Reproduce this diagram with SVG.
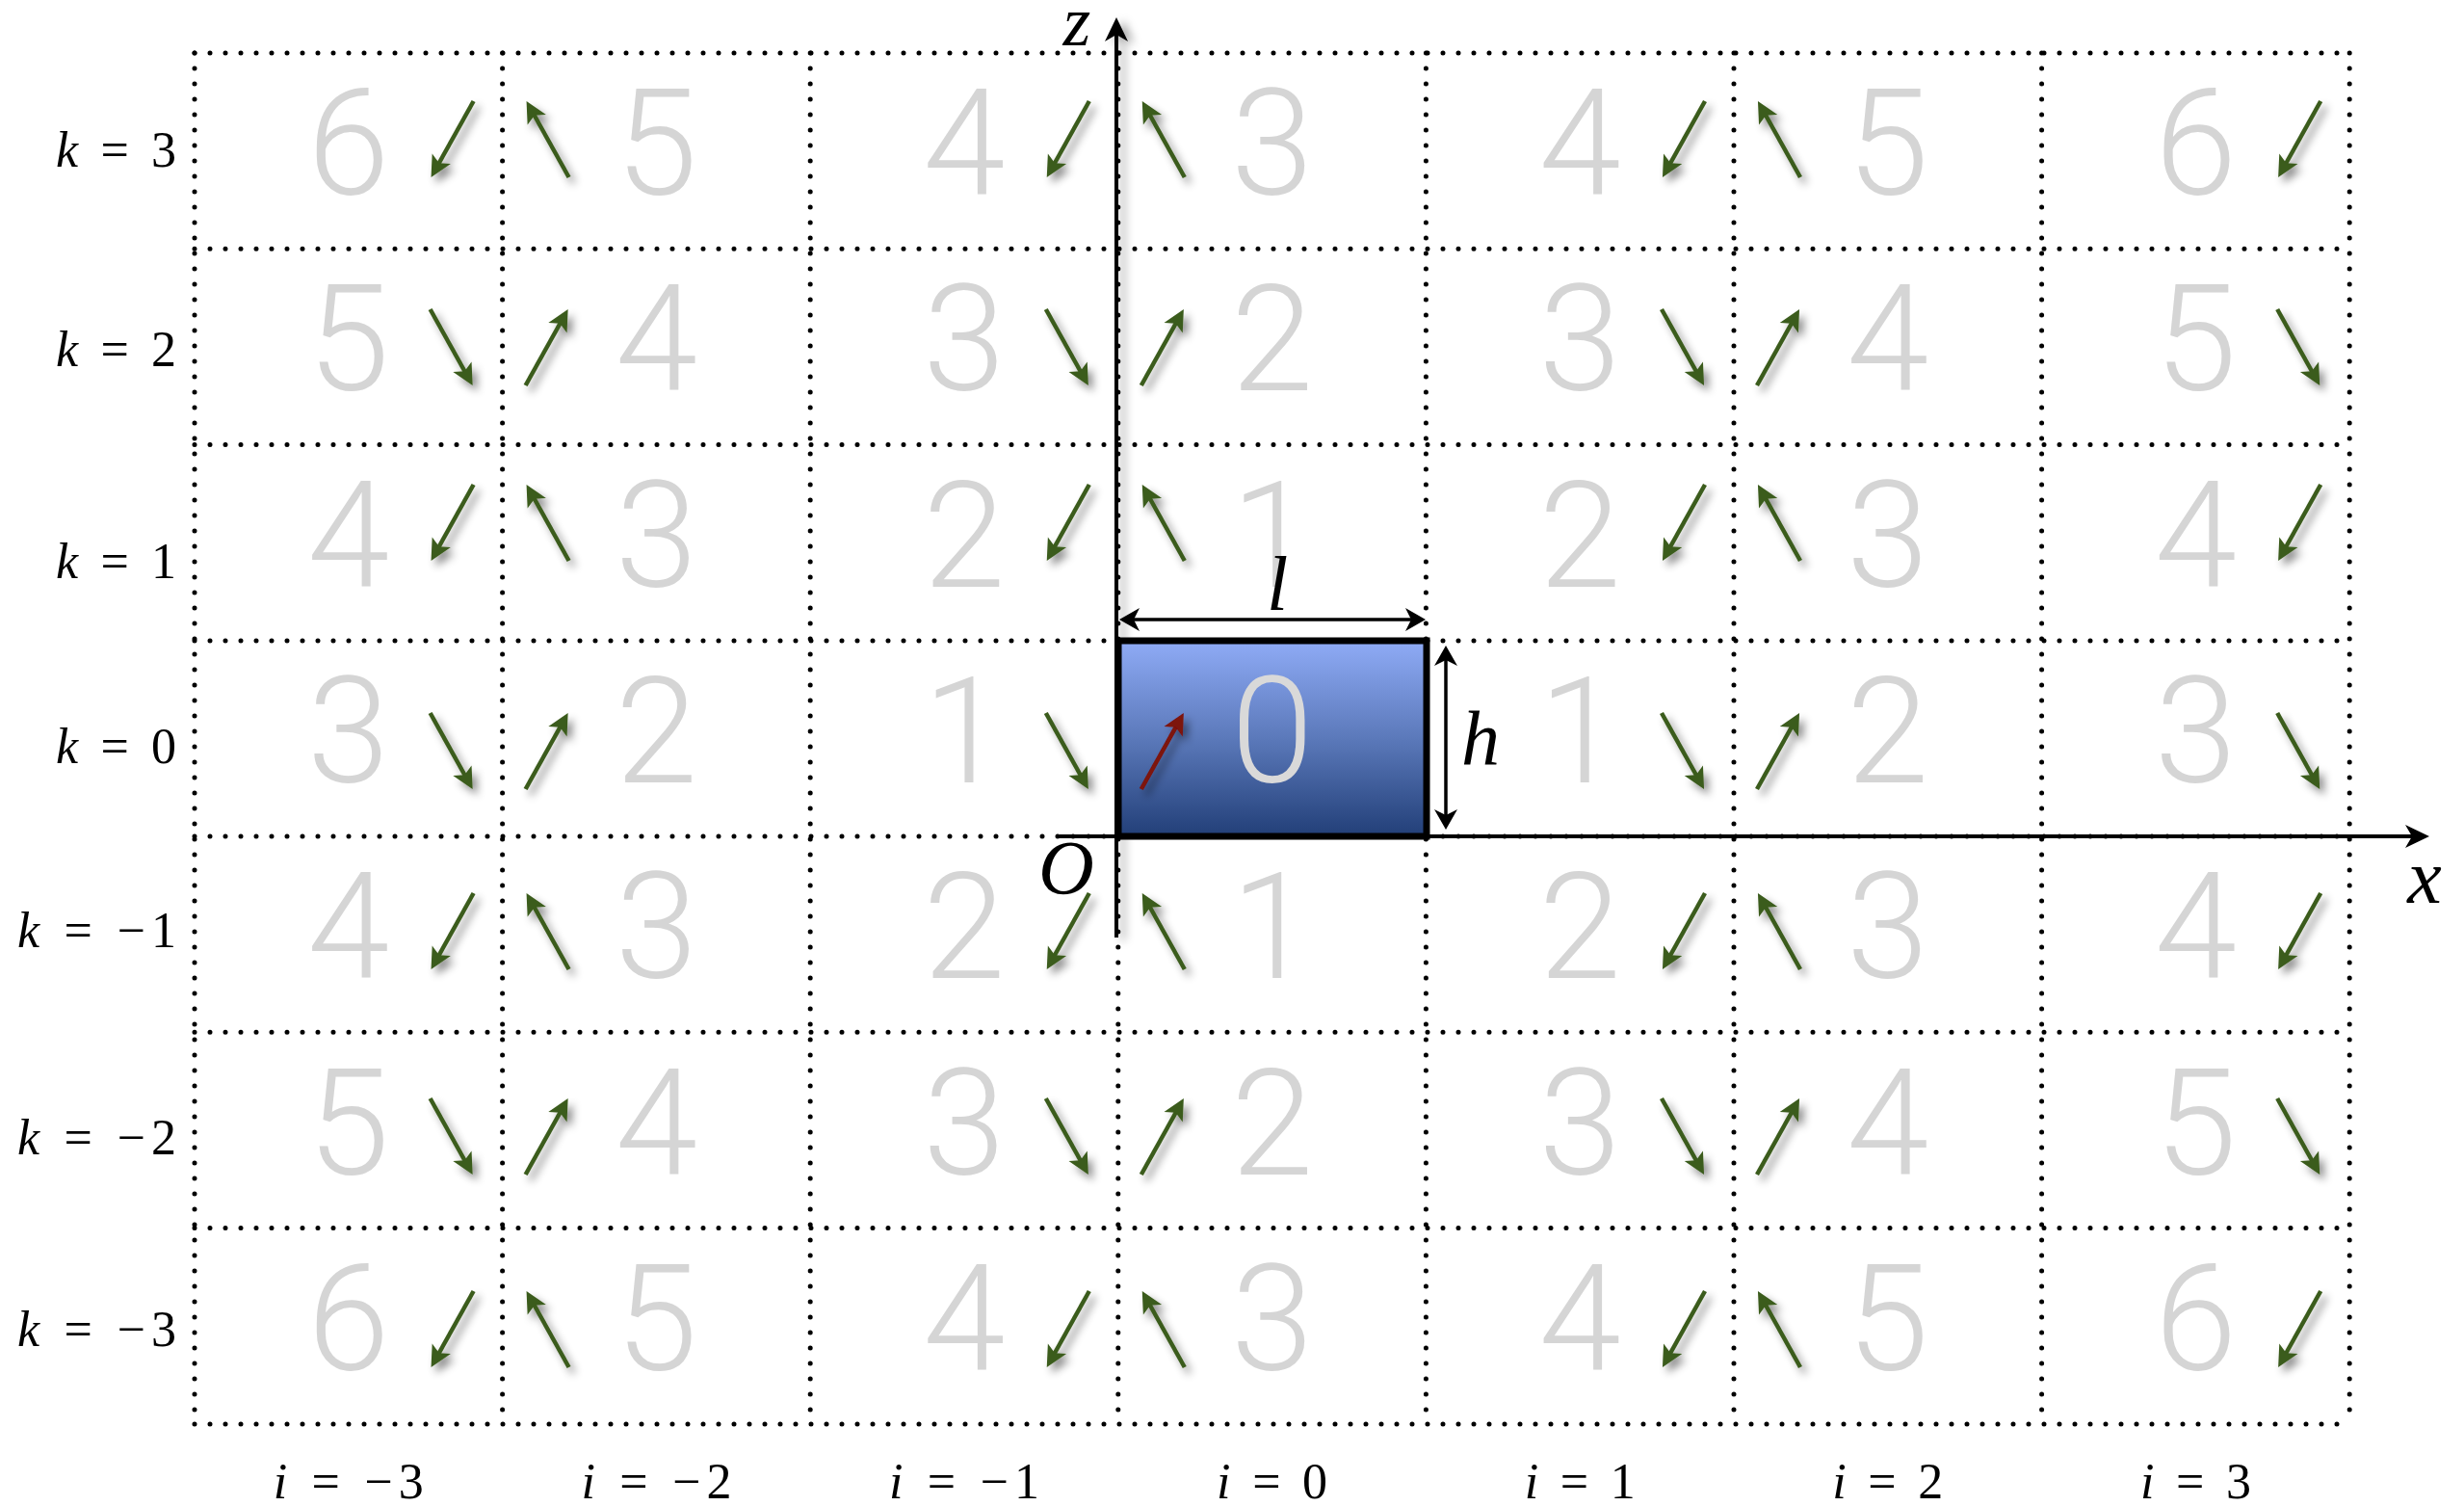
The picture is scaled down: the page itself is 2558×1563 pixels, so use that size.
<svg xmlns="http://www.w3.org/2000/svg" width="2558" height="1563" viewBox="0 0 2558 1563">
<defs>
<style>
.dot{stroke:#000;stroke-width:5;stroke-dasharray:0 16;stroke-linecap:round;fill:none}
.num{font-family:Roboto,'Open Sans','DejaVu Sans',sans-serif;font-size:154px;font-weight:300;fill:#d5d5d5;text-anchor:middle}
.ga{stroke:#3b5b1c;stroke-width:4.5;fill:none;marker-end:url(#mg);filter:url(#sh)}
.ra{stroke:#7d120c;stroke-width:4.5;fill:none;marker-end:url(#mr);filter:url(#sh)}
.math{font-family:'Liberation Serif','DejaVu Serif',serif;font-size:52px;fill:#000}
.lbl{font-family:'Liberation Serif','DejaVu Serif',serif;font-size:80px;font-style:italic;fill:#000;text-anchor:middle}
.v{font-style:italic}
.axis{stroke:#000;stroke-width:4;fill:none;marker-end:url(#mk)}
.dim{stroke:#000;stroke-width:3.5;fill:none;marker-start:url(#md);marker-end:url(#md)}
</style>
<filter id="sh" x="-60%" y="-60%" width="220%" height="220%"><feDropShadow dx="5" dy="6" stdDeviation="4" flood-color="#000" flood-opacity="0.45"/></filter>
<filter id="shz" filterUnits="userSpaceOnUse" x="1120" y="0" width="90" height="1000"><feDropShadow dx="7" dy="3" stdDeviation="5" flood-color="#000" flood-opacity="0.35"/></filter>
<marker id="mg" markerUnits="userSpaceOnUse" viewBox="-12 -12 26 24" refX="0" refY="0" markerWidth="26" markerHeight="24" orient="auto"><path d="M12 0 L-10 -11 L-5 0 L-10 11 Z" fill="#3b5b1c"/></marker>
<marker id="mr" markerUnits="userSpaceOnUse" viewBox="-12 -12 26 24" refX="0" refY="0" markerWidth="26" markerHeight="24" orient="auto"><path d="M12 0 L-10 -11 L-5 0 L-10 11 Z" fill="#7d120c"/></marker>
<marker id="mk" markerUnits="userSpaceOnUse" viewBox="-15 -14 29 28" refX="0" refY="0" markerWidth="29" markerHeight="28" orient="auto"><path d="M12 0 L-13 -12 L-6 0 L-13 12 Z" fill="#000"/></marker>
<marker id="md" markerUnits="userSpaceOnUse" viewBox="-13 -13 25 26" refX="0" refY="0" markerWidth="25" markerHeight="26" orient="auto-start-reverse"><path d="M10 0 L-11 -12 L-5 0 L-11 12 Z" fill="#000"/></marker>
<linearGradient id="bg" x1="0" y1="0" x2="0" y2="1"><stop offset="0" stop-color="#8fabf6"/><stop offset="0.5" stop-color="#5b79ba"/><stop offset="1" stop-color="#223f78"/></linearGradient>
</defs>
<rect width="2558" height="1563" fill="#fff"/>
<g id="grid">
<path class="dot" d="M202 55H2439M202 258.3H2439M202 461.6H2439M202 665H2439M202 868H2439M202 1071.3H2439M202 1274.6H2439M202 1478H2439"/>
<path class="dot" d="M202 55V1478M521.6 55V1478M841.2 55V1478M1160.8 55V1478M1480.4 55V1478M1800 55V1478M2119.6 55V1478M2439.2 55V1478"/>
</g>
<g id="row-labels" class="math" text-anchor="end">
<text x="183" y="173" textLength="125" lengthAdjust="spacing"><tspan class="v">k</tspan> = 3</text>
<text x="183" y="380" textLength="125" lengthAdjust="spacing"><tspan class="v">k</tspan> = 2</text>
<text x="183" y="600" textLength="125" lengthAdjust="spacing"><tspan class="v">k</tspan> = 1</text>
<text x="183" y="792" textLength="125" lengthAdjust="spacing"><tspan class="v">k</tspan> = 0</text>
<text x="183" y="983" textLength="165" lengthAdjust="spacing"><tspan class="v">k</tspan> = −1</text>
<text x="183" y="1198" textLength="165" lengthAdjust="spacing"><tspan class="v">k</tspan> = −2</text>
<text x="183" y="1397" textLength="165" lengthAdjust="spacing"><tspan class="v">k</tspan> = −3</text>
</g>
<g id="col-labels" class="math" text-anchor="middle">
<text x="361.8" y="1555" textLength="156" lengthAdjust="spacing"><tspan class="v">i</tspan> = −3</text>
<text x="681.4" y="1555" textLength="156" lengthAdjust="spacing"><tspan class="v">i</tspan> = −2</text>
<text x="1001" y="1555" textLength="156" lengthAdjust="spacing"><tspan class="v">i</tspan> = −1</text>
<text x="1320.6" y="1555" textLength="115" lengthAdjust="spacing"><tspan class="v">i</tspan> = 0</text>
<text x="1640.2" y="1555" textLength="115" lengthAdjust="spacing"><tspan class="v">i</tspan> = 1</text>
<text x="1959.8" y="1555" textLength="115" lengthAdjust="spacing"><tspan class="v">i</tspan> = 2</text>
<text x="2279.4" y="1555" textLength="115" lengthAdjust="spacing"><tspan class="v">i</tspan> = 3</text>
</g>
<g id="cells">
<g id="cell-m3-3"><text class="num" x="361.8" y="202">6</text><path class="ga" d="M491.6 105L453.4 173.5"/></g>
<g id="cell-m2-3"><text class="num" x="681.4" y="202">5</text><path class="ga" d="M590.6 184L552.4 115.5"/></g>
<g id="cell-m1-3"><text class="num" x="1001" y="202">4</text><path class="ga" d="M1130.8 105L1092.6 173.5"/></g>
<g id="cell-0-3"><text class="num" x="1320.6" y="202">3</text><path class="ga" d="M1229.8 184L1191.6 115.5"/></g>
<g id="cell-1-3"><text class="num" x="1640.2" y="202">4</text><path class="ga" d="M1770 105L1731.8 173.5"/></g>
<g id="cell-2-3"><text class="num" x="1959.8" y="202">5</text><path class="ga" d="M1869 184L1830.8 115.5"/></g>
<g id="cell-3-3"><text class="num" x="2279.4" y="202">6</text><path class="ga" d="M2409.2 105L2371 173.5"/></g>

<g id="cell-m3-2"><text class="num" x="361.8" y="405.3">5</text><path class="ga" d="M446.6 321L484.8 389.5"/></g>
<g id="cell-m2-2"><text class="num" x="681.4" y="405.3">4</text><path class="ga" d="M545.6 400L583.8 331.5"/></g>
<g id="cell-m1-2"><text class="num" x="1001" y="405.3">3</text><path class="ga" d="M1085.8 321L1124 389.5"/></g>
<g id="cell-0-2"><text class="num" x="1320.6" y="405.3">2</text><path class="ga" d="M1184.8 400L1223 331.5"/></g>
<g id="cell-1-2"><text class="num" x="1640.2" y="405.3">3</text><path class="ga" d="M1725 321L1763.2 389.5"/></g>
<g id="cell-2-2"><text class="num" x="1959.8" y="405.3">4</text><path class="ga" d="M1824 400L1862.2 331.5"/></g>
<g id="cell-3-2"><text class="num" x="2279.4" y="405.3">5</text><path class="ga" d="M2364.2 321L2402.4 389.5"/></g>

<g id="cell-m3-1"><text class="num" x="361.8" y="608.6">4</text><path class="ga" d="M491.6 503L453.4 571.5"/></g>
<g id="cell-m2-1"><text class="num" x="681.4" y="608.6">3</text><path class="ga" d="M590.6 582L552.4 513.5"/></g>
<g id="cell-m1-1"><text class="num" x="1001" y="608.6">2</text><path class="ga" d="M1130.8 503L1092.6 571.5"/></g>
<g id="cell-0-1"><text class="num" x="1320.6" y="608.6">1</text><path class="ga" d="M1229.8 582L1191.6 513.5"/></g>
<g id="cell-1-1"><text class="num" x="1640.2" y="608.6">2</text><path class="ga" d="M1770 503L1731.8 571.5"/></g>
<g id="cell-2-1"><text class="num" x="1959.8" y="608.6">3</text><path class="ga" d="M1869 582L1830.8 513.5"/></g>
<g id="cell-3-1"><text class="num" x="2279.4" y="608.6">4</text><path class="ga" d="M2409.2 503L2371 571.5"/></g>

<g id="cell-m3-0"><text class="num" x="361.8" y="812">3</text><path class="ga" d="M446.6 740L484.8 808.5"/></g>
<g id="cell-m2-0"><text class="num" x="681.4" y="812">2</text><path class="ga" d="M545.6 819L583.8 750.5"/></g>
<g id="cell-m1-0"><text class="num" x="1001" y="812">1</text><path class="ga" d="M1085.8 740L1124 808.5"/></g>
<g id="cell-1-0"><text class="num" x="1640.2" y="812">1</text><path class="ga" d="M1725 740L1763.2 808.5"/></g>
<g id="cell-2-0"><text class="num" x="1959.8" y="812">2</text><path class="ga" d="M1824 819L1862.2 750.5"/></g>
<g id="cell-3-0"><text class="num" x="2279.4" y="812">3</text><path class="ga" d="M2364.2 740L2402.4 808.5"/></g>

<g id="cell-m3-m1"><text class="num" x="361.8" y="1015">4</text><path class="ga" d="M491.6 927L453.4 995.5"/></g>
<g id="cell-m2-m1"><text class="num" x="681.4" y="1015">3</text><path class="ga" d="M590.6 1006L552.4 937.5"/></g>
<g id="cell-m1-m1"><text class="num" x="1001" y="1015">2</text><path class="ga" d="M1130.8 927L1092.6 995.5"/></g>
<g id="cell-0-m1"><text class="num" x="1320.6" y="1015">1</text><path class="ga" d="M1229.8 1006L1191.6 937.5"/></g>
<g id="cell-1-m1"><text class="num" x="1640.2" y="1015">2</text><path class="ga" d="M1770 927L1731.8 995.5"/></g>
<g id="cell-2-m1"><text class="num" x="1959.8" y="1015">3</text><path class="ga" d="M1869 1006L1830.8 937.5"/></g>
<g id="cell-3-m1"><text class="num" x="2279.4" y="1015">4</text><path class="ga" d="M2409.2 927L2371 995.5"/></g>

<g id="cell-m3-m2"><text class="num" x="361.8" y="1218.6">5</text><path class="ga" d="M446.6 1140L484.8 1208.5"/></g>
<g id="cell-m2-m2"><text class="num" x="681.4" y="1218.6">4</text><path class="ga" d="M545.6 1219L583.8 1150.5"/></g>
<g id="cell-m1-m2"><text class="num" x="1001" y="1218.6">3</text><path class="ga" d="M1085.8 1140L1124 1208.5"/></g>
<g id="cell-0-m2"><text class="num" x="1320.6" y="1218.6">2</text><path class="ga" d="M1184.8 1219L1223 1150.5"/></g>
<g id="cell-1-m2"><text class="num" x="1640.2" y="1218.6">3</text><path class="ga" d="M1725 1140L1763.2 1208.5"/></g>
<g id="cell-2-m2"><text class="num" x="1959.8" y="1218.6">4</text><path class="ga" d="M1824 1219L1862.2 1150.5"/></g>
<g id="cell-3-m2"><text class="num" x="2279.4" y="1218.6">5</text><path class="ga" d="M2364.2 1140L2402.4 1208.5"/></g>

<g id="cell-m3-m3"><text class="num" x="361.8" y="1421.9">6</text><path class="ga" d="M491.6 1340L453.4 1408.5"/></g>
<g id="cell-m2-m3"><text class="num" x="681.4" y="1421.9">5</text><path class="ga" d="M590.6 1419L552.4 1350.5"/></g>
<g id="cell-m1-m3"><text class="num" x="1001" y="1421.9">4</text><path class="ga" d="M1130.8 1340L1092.6 1408.5"/></g>
<g id="cell-0-m3"><text class="num" x="1320.6" y="1421.9">3</text><path class="ga" d="M1229.8 1419L1191.6 1350.5"/></g>
<g id="cell-1-m3"><text class="num" x="1640.2" y="1421.9">4</text><path class="ga" d="M1770 1340L1731.8 1408.5"/></g>
<g id="cell-2-m3"><text class="num" x="1959.8" y="1421.9">5</text><path class="ga" d="M1869 1419L1830.8 1350.5"/></g>
<g id="cell-3-m3"><text class="num" x="2279.4" y="1421.9">6</text><path class="ga" d="M2409.2 1340L2371 1408.5"/></g>
</g>
<g id="axes">
<path class="axis" d="M1100 868H2510"/>
<path class="axis" d="M1159 973V30" filter="url(#shz)"/>
<text class="lbl" x="1118" y="47" style="font-size:74px">z</text>
<text class="lbl" x="2517" y="937">x</text>
<text class="lbl" x="1107" y="928">O</text>
</g>
<g id="cell-0-0">
<rect x="1161" y="665" width="320" height="203" fill="url(#bg)" stroke="#000" stroke-width="7"/>
<text class="num" x="1320.6" y="812" style="fill:#d9d9d9">0</text>
<path class="ra" d="M1184.8 819L1223 750.5"/>
</g>
<g id="dimensions">
<path class="dim" d="M1172 643H1470"/>
<path class="dim" d="M1501 680V851"/>
<text class="lbl" x="1326" y="633">l</text>
<text class="lbl" x="1537" y="793">h</text>
</g>
</svg>
